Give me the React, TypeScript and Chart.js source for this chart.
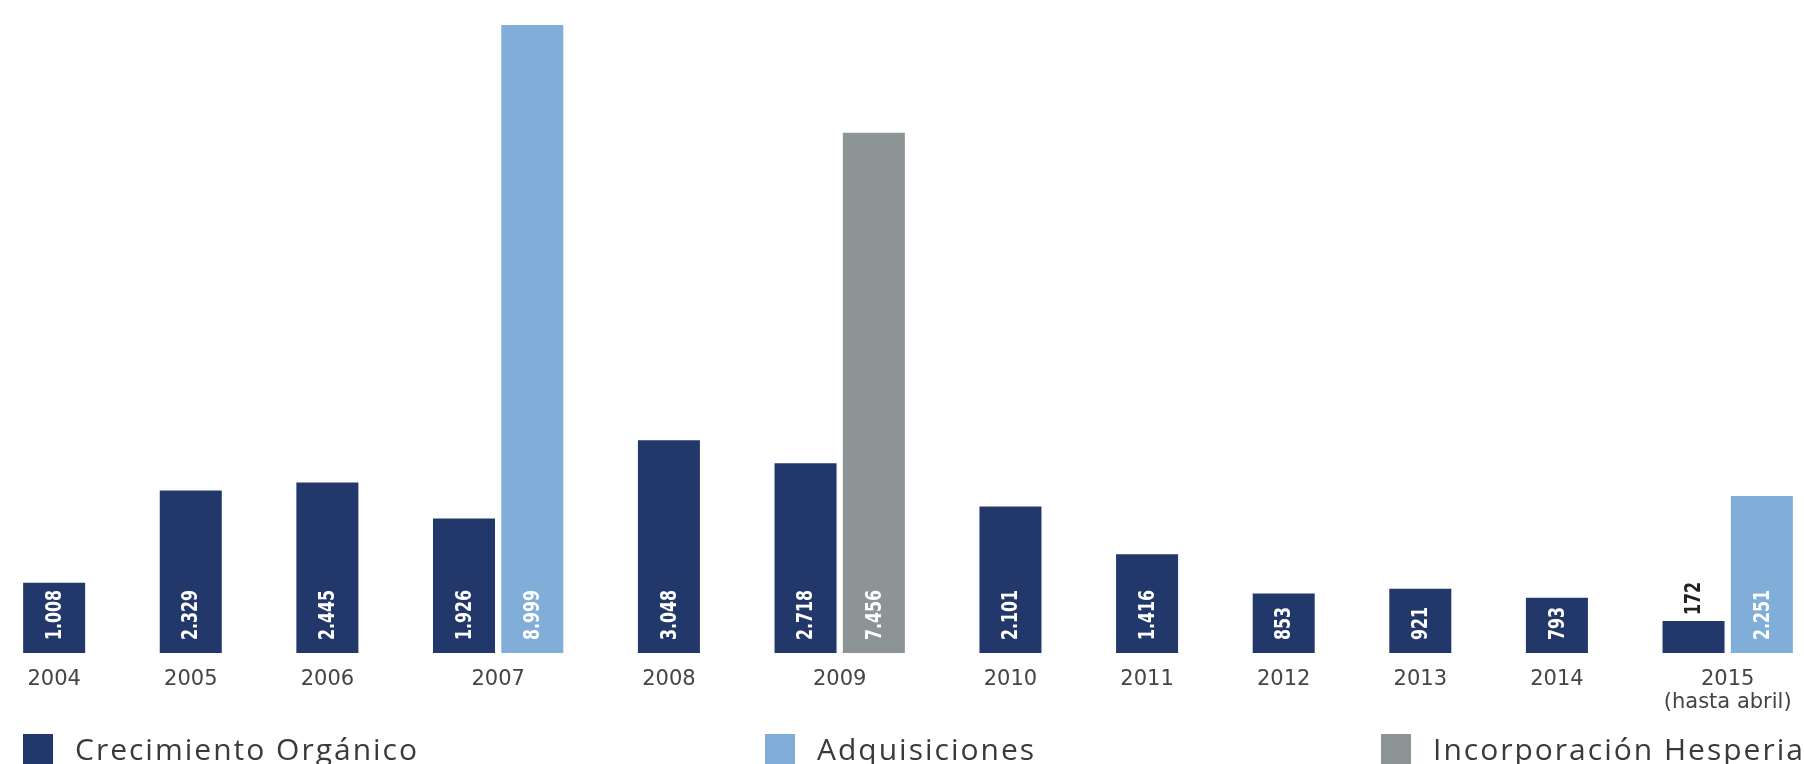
import React, { useEffect, useRef } from "react";
import { Chart, registerables } from "chart.js";

Chart.register(...registerables);

// ---- data ----
const categories = ["2004", "2005", "2006", "2007", "2008", "2009", "2010", "2011", "2012", "2013", "2014", "2015"];
const tickLabels: (string | string[])[] = ["2004", "2005", "2006", "2007", "2008", "2009", "2010", "2011", "2012", "2013", "2014", ["2015", "(hasta abril)"]];
const organico = [1008, 2329, 2445, 1926, 3048, 2718, 2101, 1416, 853, 921, 793, 172];
const adquisiciones: (number | null)[] = [null, null, null, 8999, null, null, null, null, null, null, null, 2251];
const hesperia: (number | null)[] = [null, null, null, null, null, 7456, null, null, null, null, null, null];
const seriesNames = ["Crecimiento Orgánico", "Adquisiciones", "Incorporación Hesperia"];
const seriesColors = ["#22386b", "#80aed8", "#8c9496"];

// ---- slot layout derived from data (second bar of a pair sits in the next slot) ----
const organicoPts: { x: number; y: number }[] = [];
const adqPts: { x: number; y: number }[] = [];
const hesPts: { x: number; y: number }[] = [];
const tickPos: number[] = [];
let maxSlot = 0;
(() => {
  let pos = 0;
  categories.forEach((_, i) => {
    const extra = adquisiciones[i] ?? hesperia[i];
    const n = extra != null ? 2 : 1;
    organicoPts.push({ x: pos, y: organico[i] });
    if (adquisiciones[i] != null) adqPts.push({ x: pos + 1, y: adquisiciones[i] as number });
    if (hesperia[i] != null) hesPts.push({ x: pos + 1, y: hesperia[i] as number });
    tickPos.push(pos + (n - 1) / 2);
    maxSlot = pos + n - 1;
    pos += n + 1;
  });
})();

const fmt = (v: number) => String(v).replace(/\B(?=(\d{3})+(?!\d))/g, ".");

const valueLabels = {
  id: "valueLabels",
  afterDatasetsDraw(chart: any) {
    const ctx = chart.ctx;
    ctx.save();
    ctx.font = "bold 22px 'DejaVu Sans'";
    ctx.textBaseline = "middle";
    ctx.textAlign = "left";
    chart.data.datasets.forEach((ds: any, di: number) => {
      const meta = chart.getDatasetMeta(di);
      meta.data.forEach((el: any, i: number) => {
        const v = ds.data[i].y;
        const txt = fmt(v);
        const sx = 0.72;
        const w = ctx.measureText(txt).width * sx;
        const h = el.base - el.y;
        ctx.save();
        if (w + 10 < h) {
          ctx.translate(el.x, el.base - 13);
          ctx.fillStyle = "#ffffff";
        } else {
          ctx.translate(el.x, el.y - 6);
          ctx.fillStyle = "#222222";
        }
        ctx.rotate(-Math.PI / 2);
        ctx.scale(sx, 1);
        ctx.fillText(txt, 0, 1);
        ctx.restore();
      });
    });
    ctx.restore();
  },
};

const bottomLegend = {
  id: "bottomLegend",
  afterDraw(chart: any) {
    const ctx = chart.ctx;
    const W = chart.width;
    const xs = [23, 765, 1381].map((x) => (x / 1804) * W);
    ctx.save();
    ctx.font = "30px 'Open Sans'";
    try {
      (ctx as any).letterSpacing = "2px";
    } catch (e) {}
    ctx.textBaseline = "alphabetic";
    ctx.textAlign = "left";
    seriesNames.forEach((name, i) => {
      ctx.fillStyle = seriesColors[i];
      ctx.fillRect(xs[i], 734, 30, 32);
      ctx.fillStyle = "#3a3a3a";
      ctx.fillText(name, xs[i] + 52, 760);
    });
    ctx.restore();
  },
};

export default function App() {
  const ref = useRef<HTMLCanvasElement | null>(null);
  useEffect(() => {
    document.body.style.margin = "0";
    if (!ref.current) return;
    const mk = (label: string, data: any, color: string) => ({
      label,
      data,
      backgroundColor: color,
      borderWidth: 0,
      grouped: false,
      categoryPercentage: 1,
      barPercentage: 0.908,
      minBarLength: 32,
    });
    const chart = new Chart(ref.current, {
      type: "bar",
      data: {
        datasets: [
          mk(seriesNames[0], organicoPts, seriesColors[0]),
          mk(seriesNames[1], adqPts, seriesColors[1]),
          mk(seriesNames[2], hesPts, seriesColors[2]),
        ],
      },
      options: {
        animation: false,
        responsive: true,
        maintainAspectRatio: false,
        layout: { padding: { left: 20, right: 8, top: 25, bottom: 41 } },
        plugins: { legend: { display: false }, tooltip: { enabled: false } },
        scales: {
          x: {
            type: "linear",
            offset: false,
            min: -0.5,
            max: maxSlot + 0.5,
            grid: { display: false, offset: false },
            border: { display: false },
            afterBuildTicks: (axis: any) => {
              axis.ticks = tickPos.map((v) => ({ value: v }));
            },
            afterFit: (axis: any) => {
              axis.height = 70;
            },
            ticks: {
              autoSkip: false,
              maxRotation: 0,
              padding: 8,
              color: "#444444",
              font: { family: "'DejaVu Sans'", size: 21, lineHeight: 1.05 },
              callback: (value: any) => {
                const idx = tickPos.indexOf(Number(value));
                return idx >= 0 ? tickLabels[idx] : "";
              },
            },
          },
          y: { display: false, min: 0, max: 9000 },
        },
      },
      plugins: [valueLabels, bottomLegend],
    });
    return () => chart.destroy();
  }, []);
  return (
    <div style={{ width: 1804, height: 764, position: "relative" }}>
      <canvas ref={ref} />
    </div>
  );
}
